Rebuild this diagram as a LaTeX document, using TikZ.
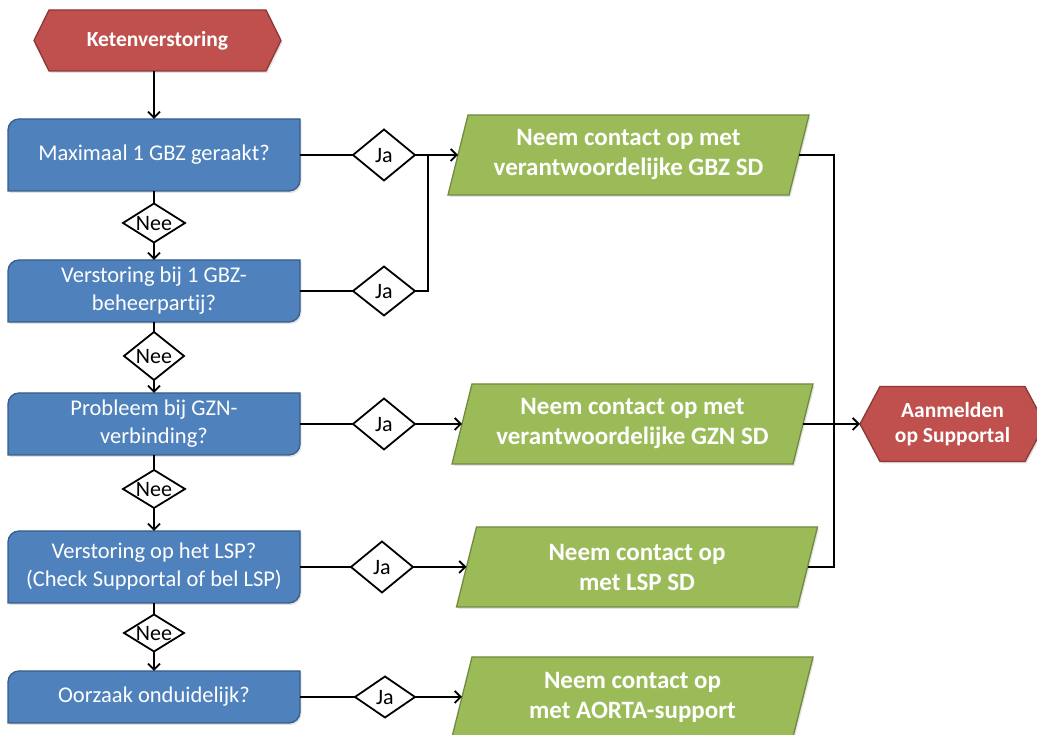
\documentclass[tikz,border=0pt]{standalone}
\usepackage{fontspec}
\setmainfont{Carlito}[Ligatures={NoCommon}]
\usetikzlibrary{shapes.geometric,arrows.meta,calc,shadows}

\definecolor{qfill}{HTML}{4F81BD}
\definecolor{qline}{HTML}{385D8A}
\definecolor{afill}{HTML}{9BBB59}
\definecolor{aline}{HTML}{71893F}
\definecolor{tfill}{HTML}{C0504D}
\definecolor{tline}{HTML}{8C3836}

\pgfdeclarelayer{background}
\pgfsetlayers{background,main}

% outline of a box with rounded top-left and bottom-right corners
\newcommand\outlinebox[3]{%
  \path[#3] ($(#1.north west)+(0,-#2)$) arc[start angle=180,end angle=90,radius=#2]
    -- (#1.north east) -- ($(#1.south east)+(0,#2)$)
    arc[start angle=0,end angle=-90,radius=#2] -- (#1.south west) -- cycle;}
% outline of a hexagon spanning the node
\newcommand\outlinehex[3]{%
  \path[#3] (#1.west) -- ($(#1.north west)+(#2,0)$) -- ($(#1.north east)+(-#2,0)$)
    -- (#1.east) -- ($(#1.south east)+(-#2,0)$) -- ($(#1.south west)+(#2,0)$) -- cycle;}
% outline of a parallelogram leaning to the right
\newcommand\outlinepara[3]{%
  \path[#3] ($(#1.north west)+(#2,0)$) -- (#1.north east)
    -- ($(#1.south east)+(-#2,0)$) -- (#1.south west) -- cycle;}
% centred label that does not size its node
\newcommand\dlabel[1]{\smash{\makebox[0pt]{\raisebox{-0.32em}{#1}}}}

\begin{document}
\begin{tikzpicture}[x=1pt,y=1pt,
  every node/.style={inner sep=0pt, outer sep=0pt},
  question/.style={rectangle, minimum width=292, text=white, align=center,
    font=\fontsize{22.5}{28}\selectfont},
  action/.style={rectangle, minimum width=361, minimum height=80, text=white,
    align=center, font=\fontsize{25}{30}\selectfont\bfseries},
  terminal/.style={rectangle, text=white, align=center,
    font=\fontsize{21.5}{25.5}\selectfont\bfseries},
  decision/.style={diamond, draw=black, line width=1.8pt, fill=white,
    minimum width=62, font=\fontsize{22}{26}\selectfont},
  qshape/.style={fill=qfill, draw=qline, line width=1.3pt,
    drop shadow={shadow xshift=1.5pt, shadow yshift=-2pt, opacity=0.22}},
  ashape/.style={fill=afill, draw=aline, line width=1.3pt,
    drop shadow={shadow xshift=1.5pt, shadow yshift=-2pt, opacity=0.22}},
  tshape/.style={fill=tfill, draw=tline, line width=1.3pt,
    drop shadow={shadow xshift=1.5pt, shadow yshift=-2pt, opacity=0.22}},
  link/.style={draw=black, line width=1.8pt},
  arrow/.style={link, -{Straight Barb[length=6pt,width=12pt]}},
]
\clip (0,0) rectangle (1037,735);
\useasboundingbox (0,0) rectangle (1037,735);

% start and end terminals
\node[terminal, minimum width=247, minimum height=61] (k) at (157.5,694.5) {Ketenverstoring};
\node[terminal, minimum width=185, minimum height=75] (aan) at (952.5,311) {Aanmelden\\op Supportal};

% questions
\node[question, minimum height=72] (b1) at (154,580) {Maximaal 1 GBZ geraakt?};
\node[question, minimum height=62] (b2) at (154,444) {Verstoring bij 1 GBZ-\\beheerpartij?};
\node[question, minimum height=62] (b3) at (154,311) {Probleem bij GZN-\\verbinding?};
\node[question, minimum height=72] (b4) at (154,168) {Verstoring op het LSP?\\(Check Supportal of bel LSP)};
\node[question, minimum height=52] (b5) at (154,38) {Oorzaak onduidelijk?};

% "no" decisions
\node[decision, minimum height=39] (nee1) at (154,512) {\dlabel{Nee}};
\node[decision, minimum width=60, minimum height=48] (nee2) at (154,379) {\dlabel{Nee}};
\node[decision, minimum height=38] (nee3) at (154,246) {\dlabel{Nee}};
\node[decision, minimum width=60, minimum height=37] (nee4) at (154,102) {\dlabel{Nee}};

% "yes" decisions
\node[decision, minimum height=51] (ja1) at (384,580) {\dlabel{Ja}};
\node[decision, minimum height=49] (ja2) at (384,444) {\dlabel{Ja}};
\node[decision, minimum height=51] (ja3) at (384,311) {\dlabel{Ja}};
\node[decision, minimum height=51] (ja4) at (382,168) {\dlabel{Ja}};
\node[decision, minimum width=60, minimum height=41] (ja5) at (385,38) {\dlabel{Ja}};

% actions
\node[action] (g1) at (628.5,580) {Neem contact op met\\verantwoordelijke GBZ SD};
\node[action] (g2) at (632.5,311) {Neem contact op met\\verantwoordelijke GZN SD};
\node[action] (g3) at (637,168) {Neem contact op\\met LSP SD};
\node[action] (g4) at (632.5,38) {Neem contact op\\met AORTA-support};

\begin{pgfonlayer}{background}
  \fill[white] (0,0) rectangle (1037,735);
  \outlinehex{k}{15}{tshape}
  \outlinehex{aan}{20}{tshape}
  \foreach \n in {b1,b2,b3,b4,b5} {\outlinebox{\n}{11}{qshape}}
  \foreach \n in {g1,g2,g3,g4} {\outlinepara{\n}{20}{ashape}}
\end{pgfonlayer}

% main column
\draw[arrow] (b1.north |- k.south) -- (b1.north);
\draw[link] (b1.south) -- (nee1.north);
\draw[arrow] (nee1.south) -- (b2.north);
\draw[link] (b2.south) -- (nee2.north);
\draw[arrow] (nee2.south) -- (b3.north);
\draw[link] (b3.south) -- (nee3.north);
\draw[arrow] (nee3.south) -- (b4.north);
\draw[link] (b4.south) -- (nee4.north);
\draw[arrow] (nee4.south) -- (b5.north);

% yes branches
\coordinate (join) at (428,580);
\draw[link] (b1.east) -- (ja1.west);
\draw[arrow] (ja1.east) -- ($(g1.west)+(10,0)$);
\draw[link] (b2.east) -- (ja2.west);
\draw[link] (ja2.east) -| (join);
\draw[link] (b3.east) -- (ja3.west);
\draw[arrow] (ja3.east) -- ($(g2.west)+(10,0)$);
\draw[link] (b4.east) -- (ja4.west);
\draw[arrow] (ja4.east) -- ($(g3.west)+(10,0)$);
\draw[link] (b5.east) -- (ja5.west);
\draw[arrow] (ja5.east) -- ($(g4.west)+(10,0)$);

% collector to the end terminal
\coordinate (bus) at (834,400);
\draw[link] ($(g1.east)+(-10,0)$) -| (bus) |- ($(g3.east)+(-10,0)$);
\draw[arrow] ($(g2.east)+(-10,0)$) -- (aan.west);
\end{tikzpicture}
\end{document}
